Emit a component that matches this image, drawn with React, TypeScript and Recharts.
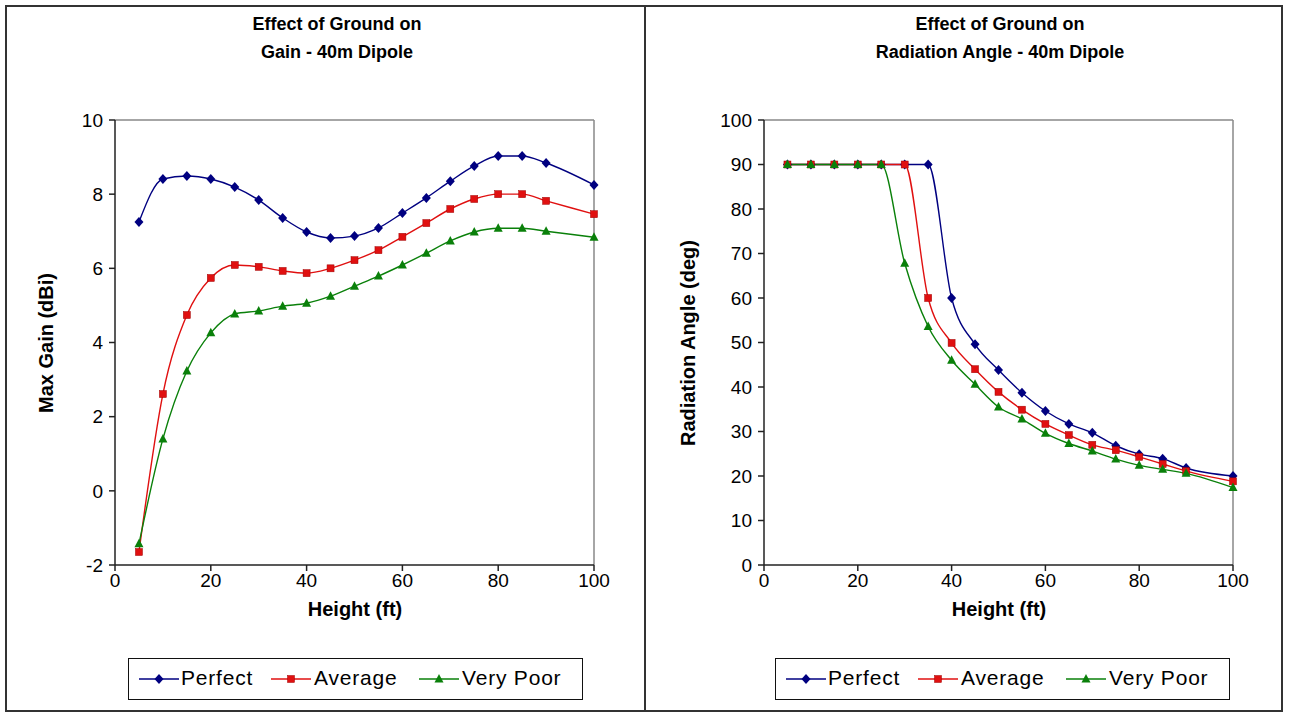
import { LineChart, Line, XAxis, YAxis, ReferenceLine } from "recharts"

const heights = [5, 10, 15, 20, 25, 30, 35, 40, 45, 50, 55, 60, 65, 70, 75, 80, 85, 90, 100]

const gainPerfect = [7.25, 8.41, 8.49, 8.41, 8.19, 7.84, 7.36, 6.98, 6.82, 6.87, 7.09, 7.49, 7.9, 8.35, 8.76, 9.03, 9.03, 8.84, 8.25]
const gainAverage = [-1.65, 2.61, 4.74, 5.74, 6.09, 6.04, 5.93, 5.87, 6.0, 6.22, 6.49, 6.85, 7.22, 7.6, 7.87, 8.0, 8.0, 7.82, 7.46]
const gainVeryPoor = [-1.43, 1.4, 3.23, 4.26, 4.77, 4.85, 4.98, 5.06, 5.25, 5.52, 5.79, 6.09, 6.41, 6.74, 6.98, 7.08, 7.08, 7.0, 6.84]

const anglePerfect = [90, 90, 90, 90, 90, 90, 90, 60, 49.6, 43.8, 38.7, 34.6, 31.7, 29.7, 26.8, 24.9, 23.9, 21.8, 20]
const angleAverage = [90, 90, 90, 90, 90, 90, 60, 49.9, 44, 38.9, 34.9, 31.7, 29.2, 27, 25.8, 24.3, 22.7, 21.1, 18.8]
const angleVeryPoor = [90, 90, 90, 90, 90, 67.8, 53.6, 46, 40.6, 35.5, 32.8, 29.6, 27.3, 25.6, 23.8, 22.4, 21.5, 20.6, 17.4]

const xTicks = [0, 20, 40, 60, 80, 100]
const gainTicks = [-2, 0, 2, 4, 6, 8, 10]
const angleTicks = [0, 10, 20, 30, 40, 50, 60, 70, 80, 90, 100]

const seriesNames = ["Perfect", "Average", "Very Poor"]

const FONT = "'Liberation Sans', Arial, sans-serif"
const NAVY = "#000080"
const RED = "#e01010"
const GREEN = "#0a800a"

const diamond = (cx: number, cy: number, color: string, key?: any) => (
    <path key={key} d={`M${cx},${cy - 5} L${cx + 4.5},${cy} L${cx},${cy + 5} L${cx - 4.5},${cy} Z`} fill={color} />
)
const square = (cx: number, cy: number, color: string, key?: any) => (
    <rect key={key} x={cx - 3.5} y={cy - 3.5} width={7} height={7} fill={color} stroke="#a00000" strokeWidth={0.5} />
)
const triangle = (cx: number, cy: number, color: string, key?: any) => (
    <path key={key} d={`M${cx},${cy - 5} L${cx + 4.5},${cy + 3.5} L${cx - 4.5},${cy + 3.5} Z`} fill={color} />
)

const shapes = [diamond, square, triangle]
const colors = [NAVY, RED, GREEN]

const makeDot = (i: number) => (props: any) => {
    const { cx, cy, index } = props
    if (cx == null || cy == null) return <g key={index} />
    return shapes[i](cx, cy, colors[i], index)
}

const gainData = heights.map((h, i) => ({ h, perfect: gainPerfect[i], average: gainAverage[i], poor: gainVeryPoor[i] }))
const angleData = heights.map((h, i) => ({ h, perfect: anglePerfect[i], average: angleAverage[i], poor: angleVeryPoor[i] }))

const tickStyle = { fill: "#000", fontSize: 19, fontFamily: FONT }

// legend item offsets inside the box: line sample start, text start
const legendLineX = [10, 142, 290]
const legendTextX = [52, 185, 333]

const Legend = ({ left }: { left: number }) => (
    <div style={{
        position: "absolute", left, top: 658, width: 455, height: 42,
        border: "1.5px solid #111", boxSizing: "border-box",
        fontFamily: FONT, fontSize: 21, letterSpacing: 0.8, color: "#000"
    }}>
        {seriesNames.map((name, i) => (
            <div key={name}>
                <svg width={40} height={14} style={{ position: "absolute", left: legendLineX[i], top: 13 }}>
                    <line x1={0} y1={7} x2={40} y2={7} stroke={colors[i]} strokeWidth={1.3} />
                    {shapes[i](20, 7, colors[i])}
                </svg>
                <span style={{ position: "absolute", left: legendTextX[i], top: 7, lineHeight: "24px" }}>{name}</span>
            </div>
        ))}
    </div>
)

const Panel = ({ left, width, data, domain, ticks, yLabel, title2, titleX, yLabelX, topValue, yTitleX, plotCenter }: any) => (
    <>
        <LineChart
            width={width}
            height={707}
            data={data}
            margin={{ top: 115, right: 51, bottom: 117, left: yLabelX }}
            style={{ position: "absolute", left, top: 5 }}
        >
            <XAxis
                dataKey="h" type="number" domain={[0, 100]} ticks={xTicks}
                tick={tickStyle} tickSize={6} tickMargin={3}
                stroke="#222" strokeWidth={1.5} height={30}
            />
            <YAxis
                type="number" domain={domain} ticks={ticks}
                tick={tickStyle} tickSize={6} tickMargin={6}
                stroke="#222" strokeWidth={1.5} width={50}
            />
            <ReferenceLine y={topValue} stroke="#888" strokeWidth={1.5} />
            <ReferenceLine x={100} stroke="#888" strokeWidth={1.5} />
            <Line type="monotone" dataKey="perfect" stroke={NAVY} strokeWidth={1.4} dot={makeDot(0)} isAnimationActive={false} />
            <Line type="monotone" dataKey="average" stroke={RED} strokeWidth={1.4} dot={makeDot(1)} isAnimationActive={false} />
            <Line type="monotone" dataKey="poor" stroke={GREEN} strokeWidth={1.4} dot={makeDot(2)} isAnimationActive={false} />
        </LineChart>
        <div style={{
            position: "absolute", left: titleX - 200, top: 10, width: 400, textAlign: "center",
            fontFamily: FONT, fontWeight: "bold", fontSize: 18, lineHeight: "28px", color: "#000"
        }}>
            Effect of Ground on<br />{title2}
        </div>
        <div style={{
            position: "absolute", left: yTitleX - 160, top: 343 - 13, width: 320, height: 26,
            textAlign: "center", transform: "rotate(-90deg)",
            fontFamily: FONT, fontWeight: "bold", fontSize: 20, lineHeight: "26px", color: "#000"
        }}>
            {yLabel}
        </div>
        <div style={{
            position: "absolute", left: plotCenter - 150, top: 596, width: 300, textAlign: "center",
            fontFamily: FONT, fontWeight: "bold", fontSize: 20, lineHeight: "26px", color: "#000"
        }}>
            Height (ft)
        </div>
    </>
)

export default function App() {
    return (
        <div style={{ position: "absolute", left: 0, top: 0, width: 1289, height: 717, background: "#fff", overflow: "hidden" }}>
            <div style={{ position: "absolute", left: 5, top: 5, width: 1278, height: 707, border: "2px solid #333", boxSizing: "border-box" }} />
            <div style={{ position: "absolute", left: 644, top: 5, width: 2, height: 707, background: "#333" }} />
            <Panel left={5} width={640} data={gainData} domain={[-2, 10]} ticks={gainTicks} topValue={10}
                yLabel="Max Gain (dBi)" title2="Gain - 40m Dipole" titleX={337} yLabelX={60} yTitleX={46} plotCenter={355} />
            <Panel left={645} width={639} data={angleData} domain={[0, 100]} ticks={angleTicks} topValue={100}
                yLabel="Radiation Angle (deg)" title2="Radiation Angle - 40m Dipole" titleX={1000} yLabelX={69} yTitleX={688} plotCenter={999} />
            <Legend left={128} />
            <Legend left={775} />
        </div>
    )
}
